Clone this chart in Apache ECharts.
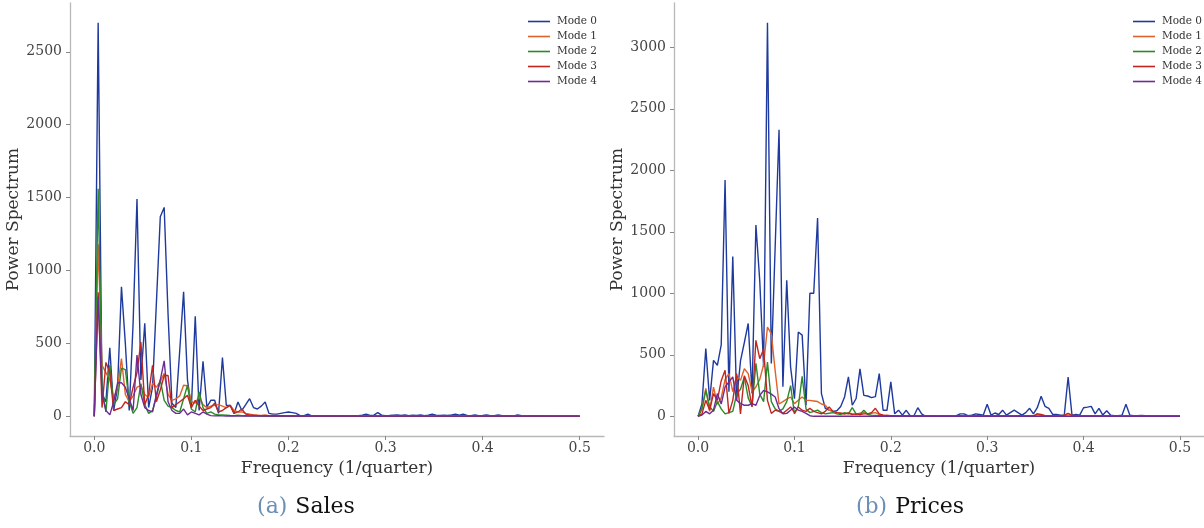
<!DOCTYPE html>
<html>
<head>
<meta charset="utf-8">
<script src="https://cdn.jsdelivr.net/npm/echarts@6/dist/echarts.min.js"></script>
<style>
html,body{margin:0;padding:0;background:#fff;}
#chart{width:1204px;height:528px;}
</style>
</head>
<body>
<div id="chart"></div>
<script>
// Frequency grid: k / N_QUARTERS, k = 0..125 (0 to 0.5 1/quarter)
const N_QUARTERS = 250;
const N_POINTS = 126;
const MODE_NAMES = ['Mode 0', 'Mode 1', 'Mode 2', 'Mode 3', 'Mode 4'];
const X_TICKS = [0, 0.1, 0.2, 0.3, 0.4, 0.5];
const Y_TICKS_SALES = [0, 500, 1000, 1500, 2000, 2500];
const Y_TICKS_PRICES = [0, 500, 1000, 1500, 2000, 2500, 3000];

// ---- (a) Sales ----
const SALES_M0 = [0,2700,150,100,470,40,200,888,500,40,
 640,1490,250,638,60,200,780,1369,1433,700,
 90,60,450,854,250,60,686,40,378,64,
 110,110,20,403,75,75,20,98,40,80,
 121,60,50,70,98,20,15,15,20,25,
 30,25,20,5,5,15,3,2,3,2,
 2,3,2,2,3,2,2,3,5,8,
 15,6,8,25,8,5,6,8,10,6,
 10,5,8,6,10,5,8,15,8,6,
 8,6,10,15,8,15,6,5,10,5,
 6,10,5,4,10,5,5,4,3,10,
 4,3,3,5,3,2,2,2,1,1,
 1,1,1,1,1,1];
const SALES_M1 = [0,1180,350,300,250,120,200,396,150,100,
 140,200,210,150,130,226,200,240,295,150,
 110,120,140,213,210,100,90,133,80,60,
 70,75,80,70,60,75,40,30,30,20,
 15,10,8,6,8,5,6,4,5,3,
 4,3,3,2,3,2,2,3,2,2,
 2,2,1,2,1,2,1,1,2,1,
 2,1,2,3,2,1,2,1,2,1,
 2,1,1,2,1,2,1,2,1,1,
 2,1,1,2,1,2,1,1,1,1,
 1,1,1,1,1,1,1,1,1,1,
 1,1,1,1,1,1,1,1,1,1,
 1,1,1,1,1,1];
const SALES_M2 = [0,1560,200,30,350,80,120,330,320,100,
 20,60,225,80,20,40,130,250,110,70,
 60,40,30,120,213,50,30,167,60,20,
 30,15,10,10,8,6,5,8,5,4,
 3,4,3,2,3,2,2,2,1,2,
 1,2,1,1,2,1,1,1,2,1,
 1,1,1,1,1,1,1,1,1,1,
 1,1,1,1,1,1,1,1,1,1,
 1,1,1,1,1,1,1,1,1,1,
 1,1,1,1,1,1,1,1,1,1,
 1,1,1,1,1,1,1,1,1,1,
 1,1,1,1,1,1,1,1,1,1,
 1,1,1,1,1,1];
const SALES_M3 = [0,850,60,370,300,40,50,60,100,80,
 200,300,510,80,150,350,100,180,280,280,
 60,80,100,120,144,60,110,70,40,50,
 60,89,30,40,60,75,20,30,50,15,
 10,8,6,5,6,4,5,3,4,3,
 3,2,3,2,2,3,2,2,1,2,
 1,2,1,1,2,1,1,2,1,1,
 1,1,2,1,1,1,2,1,1,1,
 1,1,1,1,2,1,1,1,1,1,
 1,1,1,1,1,1,1,1,1,1,
 1,1,1,1,1,1,1,1,1,1,
 1,1,1,1,1,1,1,1,1,1,
 1,1,1,1,1,1];
const SALES_M4 = [0,820,150,40,10,100,230,230,200,120,
 40,420,150,60,40,30,150,250,380,100,
 40,20,20,50,10,30,20,10,30,15,
 5,3,4,3,2,3,2,2,1,2,
 1,1,1,1,1,1,1,1,1,1,
 1,1,1,1,1,1,1,1,1,1,
 1,1,1,1,1,1,1,1,1,1,
 1,1,1,1,1,1,1,1,1,1,
 1,1,1,1,1,1,1,1,1,1,
 1,1,1,1,1,1,1,1,1,1,
 1,1,1,1,1,1,1,1,1,1,
 1,1,1,1,1,1,1,1,1,1,
 1,1,1,1,1,1];

// ---- (b) Prices ----
const PRICES_M0 = [0,100,550,130,455,415,580,1920,200,1300,
 130,450,600,755,185,1555,1100,400,3200,430,
 1380,2330,240,1105,400,144,685,660,90,1000,
 1000,1612,185,65,50,40,45,80,157,320,
 90,145,385,170,165,152,160,347,49,49,
 280,20,50,10,49,5,5,70,20,0,
 0,0,0,0,0,0,0,5,20,20,
 5,10,20,15,10,98,10,27,15,50,
 10,30,50,30,10,30,65,20,70,163,
 81,65,15,15,10,10,320,10,15,10,
 70,75,81,20,65,10,45,10,5,5,
 10,98,10,5,5,8,5,5,2,2,
 0,0,0,0,0,0];
const PRICES_M1 = [0,60,227,40,238,100,150,300,347,200,
 330,292,387,347,200,238,300,420,726,670,
 370,100,120,140,157,103,130,157,130,130,
 125,120,100,90,50,40,30,25,20,30,
 20,15,25,30,20,25,30,15,10,8,
 6,5,4,5,4,3,4,3,2,3,
 2,2,1,2,1,2,1,2,3,2,
 3,2,3,2,3,4,3,2,3,2,
 3,2,3,2,3,2,3,2,20,10,
 5,4,3,3,4,10,20,10,5,3,
 3,2,3,2,3,2,2,2,1,2,
 1,2,1,1,1,1,1,1,1,1,
 1,1,1,1,1,1];
const PRICES_M2 = [0,60,210,80,40,120,60,20,30,40,
 180,220,320,150,80,430,180,120,440,120,
 60,40,60,120,250,20,80,325,60,30,
 40,50,30,20,25,30,20,15,30,20,
 70,20,15,50,15,10,8,6,5,4,
 3,4,3,2,3,2,2,3,2,2,
 1,2,1,1,2,1,1,1,2,1,
 1,1,2,1,1,2,1,1,2,1,
 1,1,1,2,1,1,1,2,1,2,
 1,1,1,1,1,2,1,1,1,1,
 1,1,1,1,1,1,1,1,1,1,
 1,1,1,1,1,1,1,1,1,1,
 1,1,1,1,1,1];
const PRICES_M3 = [0,20,130,50,185,130,290,375,24,130,
 347,20,330,250,76,618,469,545,130,24,
 50,40,24,50,76,30,76,50,40,65,
 40,30,20,40,76,40,30,25,20,25,
 15,20,15,20,20,30,65,20,10,8,
 6,5,4,5,4,3,4,3,3,2,
 2,2,1,2,1,2,1,2,2,1,
 2,1,2,2,3,2,2,3,2,2,
 3,2,3,2,3,2,3,2,20,15,
 5,4,3,3,4,8,25,8,4,3,
 3,2,3,2,3,2,2,2,1,2,
 1,1,1,1,1,1,1,1,1,1,
 1,1,1,1,1,1];
const PRICES_M4 = [0,10,40,20,50,185,100,238,280,320,
 130,103,90,90,103,90,170,210,198,180,
 157,62,20,24,50,76,50,40,24,5,
 0,1,1,1,1,1,1,1,1,1,
 1,1,1,1,1,1,1,1,1,1,
 1,1,1,1,1,1,1,1,1,1,
 1,1,1,1,1,1,1,1,1,1,
 1,1,1,1,1,1,1,1,1,1,
 1,1,1,1,1,1,1,1,1,1,
 1,1,1,1,1,1,1,1,1,1,
 1,1,1,1,1,1,1,1,1,1,
 1,1,1,1,1,1,1,1,1,1,
 1,1,1,1,1,1];

const COLORS = ['#1f3a9e', '#e0622a', '#2a8a2a', '#c0261f', '#6e2b93'];
const SALES = [SALES_M0, SALES_M1, SALES_M2, SALES_M3, SALES_M4];
const PRICES = [PRICES_M0, PRICES_M1, PRICES_M2, PRICES_M3, PRICES_M4];

const FREQ = Array.from({length: N_POINTS}, (_, k) => k / N_QUARTERS);

const SERIF = 'DejaVu Serif';
const AXIS_COLOR = '#b8b8b8';
const LABEL_COLOR = '#444';

function xAxisCfg(gridIndex) {
  return {
    type: 'value', gridIndex: gridIndex, min: -0.025, max: 0.525,
    name: 'Frequency (1/quarter)', nameLocation: 'middle', nameGap: 22,
    nameTextStyle: {fontFamily: SERIF, fontSize: 17, color: '#333'},
    axisLine: {show: true, onZero: false, lineStyle: {color: AXIS_COLOR, width: 1.3}},
    axisTick: {show: true, length: 4, customValues: X_TICKS, lineStyle: {color: '#888'}},
    axisLabel: {customValues: X_TICKS, margin: 5, fontFamily: SERIF, fontSize: 14, color: LABEL_COLOR,
      formatter: v => v.toFixed(1)},
    splitLine: {show: false}
  };
}
function yAxisCfg(gridIndex, min, max, ticks) {
  return {
    type: 'value', gridIndex: gridIndex, min: min, max: max,
    name: 'Power Spectrum', nameLocation: 'middle', nameGap: 42, nameRotate: 90,
    nameTextStyle: {fontFamily: SERIF, fontSize: 17, color: '#333'},
    axisLine: {show: true, onZero: false, lineStyle: {color: AXIS_COLOR, width: 1.3}},
    axisTick: {show: true, length: 4, customValues: ticks, lineStyle: {color: '#888'}},
    axisLabel: {customValues: ticks, margin: 8, fontFamily: SERIF, fontSize: 14, color: LABEL_COLOR,
      formatter: v => String(Math.round(v))},
    splitLine: {show: false}
  };
}

const series = [];
[SALES, PRICES].forEach((set, gi) => {
  set.forEach((vals, m) => {
    series.push({
      type: 'line', name: MODE_NAMES[m], xAxisIndex: gi, yAxisIndex: gi,
      data: vals.map((v, k) => [FREQ[k], v]),
      showSymbol: false, symbol: 'none',
      lineStyle: {color: COLORS[m], width: 1.4},
      itemStyle: {color: COLORS[m]},
      z: 2 + m, silent: true
    });
  });
});

function legendCfg(left) {
  return {
    data: MODE_NAMES, orient: 'vertical', left: left, top: 10,
    icon: 'rect', itemWidth: 22, itemHeight: 1.6, itemGap: 2,
    textStyle: {fontFamily: SERIF, fontSize: 10.5, color: '#333', lineHeight: 13, padding: [0, 0, 0, 2]},
    selectedMode: false
  };
}

const CAPTION_RICH = {
  a: {fontFamily: SERIF, fontSize: 22, fill: '#6b8fb5', padding: [0, 8, 0, 0]},
  b: {fontFamily: SERIF, fontSize: 22, fill: '#111'}
};

const chart = echarts.init(document.getElementById('chart'), null, {renderer: 'canvas'});
chart.setOption({
  animation: false,
  backgroundColor: '#fff',
  grid: [
    {left: 70, top: 3, width: 534, height: 433},
    {left: 674, top: 3, width: 533, height: 433}
  ],
  xAxis: [xAxisCfg(0), xAxisCfg(1)],
  yAxis: [yAxisCfg(0, -135, 2835, Y_TICKS_SALES), yAxisCfg(1, -160, 3360, Y_TICKS_PRICES)],
  legend: [legendCfg(523), legendCfg(1128)],
  series: series,
  graphic: [
    {type: 'text', x: 306, y: 507, style: {text: '{a|(a)}{b|Sales}', align: 'center', verticalAlign: 'middle',
      rich: CAPTION_RICH}},
    {type: 'text', x: 910, y: 507, style: {text: '{a|(b)}{b|Prices}', align: 'center', verticalAlign: 'middle',
      rich: CAPTION_RICH}}
  ]
});
</script>
</body>
</html>
